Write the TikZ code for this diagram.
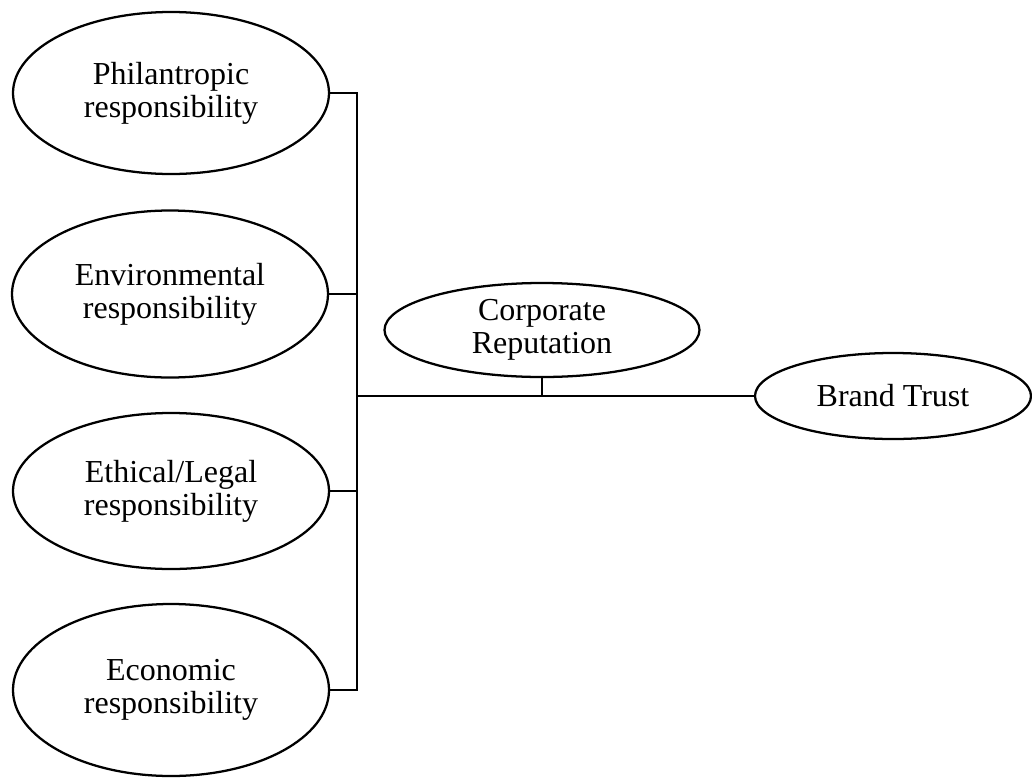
\documentclass[tikz,border=0pt]{standalone}
\usepackage{fontspec}
\setmainfont{Liberation Serif}
\usetikzlibrary{shapes.geometric,calc}

\begin{document}
\begin{tikzpicture}[
  x=0.75pt, y=-0.75pt,
  construct/.style={ellipse, draw=black, line width=1.7pt, inner sep=0pt,
    align=center, font=\fontsize{24}{24.75}\selectfont},
  link/.style={line width=2.1pt, draw=black},
]
\useasboundingbox (0,0) rectangle (1032,779);

% Dimensions of CSR
\node[construct, minimum width=237pt, minimum height=121.5pt] (phil) at (171,93)
  {Philantropic\\responsibility};
\node[construct, minimum width=237pt, minimum height=125.25pt] (envi) at (170,294)
  {Environmental\\responsibility};
\node[construct, minimum width=237pt, minimum height=117pt] (ethi) at (171,491)
  {Ethical/Legal\\responsibility};
\node[construct, minimum width=237pt, minimum height=129pt] (econ) at (171,690)
  {Economic\\responsibility};

% Mediator and outcome
\node[construct, minimum width=236.25pt, minimum height=70.5pt] (corp) at (542,330)
  {Corporate\\Reputation};
\node[construct, minimum width=207pt, minimum height=64.5pt] (brand) at (893,396)
  {Brand Trust};

% Connectors
\coordinate (hub) at (357,396);
\draw[link] (phil.east) -| (hub);
\draw[link] (econ.east) -| (hub);
\draw[link] (envi.east) -- (envi.east -| hub);
\draw[link] (ethi.east) -- (ethi.east -| hub);
\draw[link] (hub) -- (brand.west);
\draw[link] (corp.south) -- (corp.south |- hub);

\end{tikzpicture}
\end{document}
